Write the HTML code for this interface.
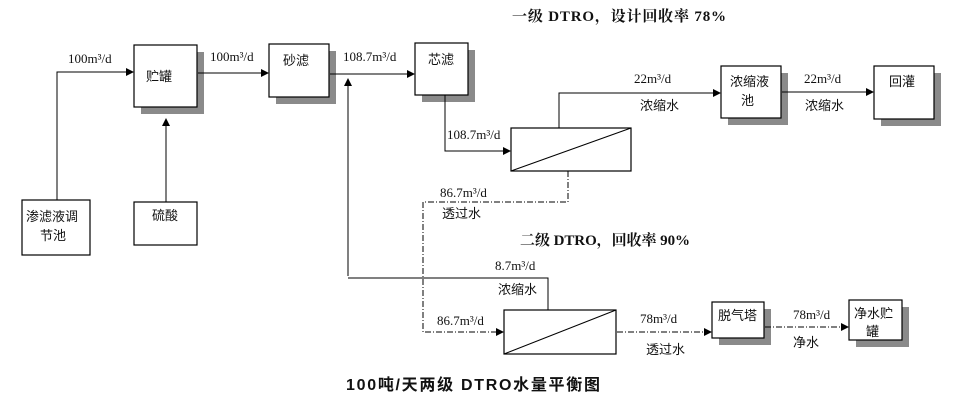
<!DOCTYPE html>
<html><head><meta charset="utf-8"><style>
body{margin:0;background:#fff}
svg text{font-family:"Liberation Serif","Noto Serif CJK SC",serif;font-size:13px;fill:#111}
.c{font-family:"Liberation Sans","Noto Sans CJK SC",sans-serif;font-size:13px}
.b{font-weight:bold;font-size:15px}
</style></head><body>
<svg width="961" height="401" viewBox="0 0 961 401" xmlns="http://www.w3.org/2000/svg">
<defs><marker id="a" markerWidth="8" markerHeight="8" refX="7" refY="4" orient="auto" markerUnits="userSpaceOnUse"><path d="M0,0 L8,4 L0,8z" fill="#000"/></marker></defs>
<g fill="#8a8a8a">
<rect x="141" y="52" width="63" height="62"/>
<rect x="276" y="51" width="60" height="53"/>
<rect x="422" y="50" width="53" height="52"/>
<rect x="728" y="73" width="60" height="52"/>
<rect x="881" y="73" width="60" height="53"/>
<rect x="719" y="309" width="52" height="36"/>
<rect x="856" y="307" width="53" height="40"/>
</g>
<g fill="#fff" stroke="#000" stroke-width="1.2">
<rect x="134" y="45" width="63" height="62"/>
<rect x="269" y="44" width="60" height="53"/>
<rect x="415" y="43" width="53" height="52"/>
<rect x="721" y="66" width="60" height="52"/>
<rect x="874" y="66" width="60" height="53"/>
<rect x="22" y="200" width="68" height="55"/>
<rect x="134" y="202" width="63" height="43"/>
<rect x="511" y="128" width="120" height="43"/>
<rect x="504" y="310" width="112" height="44"/>
<rect x="712" y="302" width="52" height="36"/>
<rect x="849" y="300" width="53" height="40"/>
</g>
<g stroke="#000" stroke-width="1" fill="none">
<line x1="511" y1="171" x2="631" y2="128"/>
<line x1="504" y1="354" x2="616" y2="310"/>
<polyline points="57,200 57,72 133,72" marker-end="url(#a)"/>
<line x1="166" y1="202" x2="166" y2="119" marker-end="url(#a)"/>
<line x1="198" y1="73" x2="268" y2="73" marker-end="url(#a)"/>
<line x1="330" y1="74" x2="414" y2="74" marker-end="url(#a)"/>
<line x1="348" y1="276" x2="348" y2="79" marker-end="url(#a)"/>
<polyline points="348,278 548,278 548,310"/>
<polyline points="445,95 445,151 510,151" marker-end="url(#a)"/>
<polyline points="559,128 559,93 720,93" marker-end="url(#a)"/>
<line x1="782" y1="92" x2="873" y2="92" marker-end="url(#a)"/>
<g stroke-dasharray="6,2,1,2">
<polyline points="568,171 568,202 423,202 423,332 503,332" marker-end="url(#a)"/>
<line x1="617" y1="332" x2="711" y2="332" marker-end="url(#a)"/>
<line x1="765" y1="327" x2="848" y2="327" marker-end="url(#a)"/>
</g>
</g>
<text x="68" y="63">100m³/d</text>
<text x="210" y="61">100m³/d</text>
<text x="343" y="61">108.7m³/d</text>
<text x="447" y="139">108.7m³/d</text>
<text x="634" y="83">22m³/d</text>
<text x="640" y="110" class="c">浓缩水</text>
<text x="804" y="83">22m³/d</text>
<text x="805" y="110" class="c">浓缩水</text>
<text x="440" y="197">86.7m³/d</text>
<text x="442" y="218" class="c">透过水</text>
<text x="495" y="270">8.7m³/d</text>
<text x="498" y="294" class="c">浓缩水</text>
<text x="437" y="325">86.7m³/d</text>
<text x="640" y="323">78m³/d</text>
<text x="646" y="354" class="c">透过水</text>
<text x="793" y="319">78m³/d</text>
<text x="793" y="347" class="c">净水</text>
<text x="146" y="81" class="c">贮罐</text>
<text x="283" y="65" class="c">砂滤</text>
<text x="428" y="64" class="c">芯滤</text>
<text x="730" y="86" class="c">浓缩液</text>
<text x="741" y="105" class="c">池</text>
<text x="889" y="86" class="c">回灌</text>
<text x="26" y="221" class="c">渗滤液调</text>
<text x="40" y="240" class="c">节池</text>
<text x="152" y="220" class="c">硫酸</text>
<text x="718" y="320" class="c">脱气塔</text>
<text x="854" y="318" class="c">净水贮</text>
<text x="866" y="336" class="c">罐</text>
<text x="512" y="21" class="b" textLength="214">一级 DTRO，设计回收率 78%</text>
<text x="520" y="245" class="b" textLength="170">二级 DTRO，回收率 90%</text>
<text x="346" y="390" class="b" style="font-family:'Liberation Sans','Noto Sans CJK SC',sans-serif;font-size:16px" textLength="254">100吨/天两级 DTRO水量平衡图</text>
</svg>
</body></html>
